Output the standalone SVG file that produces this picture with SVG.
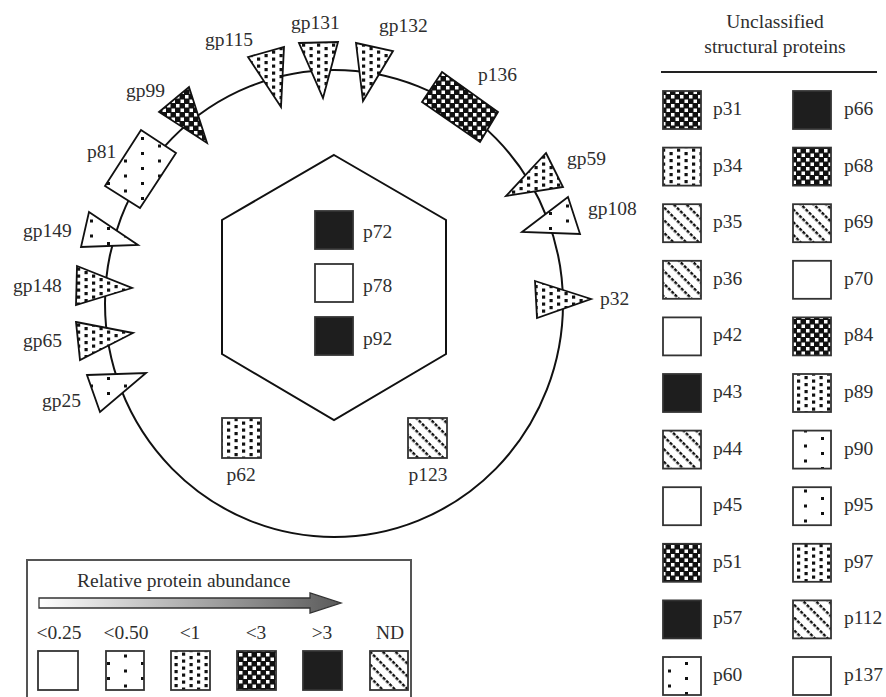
<svg xmlns="http://www.w3.org/2000/svg" width="886" height="697" viewBox="0 0 886 697">
<defs>
<style>
.t{font-family:"Liberation Serif","Times New Roman",serif;font-size:19.5px;fill:#2e2e2e}
.m{text-anchor:middle}
.sh{stroke:#111;stroke-width:1.8;stroke-linejoin:miter}
.sq{stroke:#333;stroke-width:1.8}
.w{fill:#fff}
.k{fill:#1e1e1e}
.d{fill:url(#pDots)}
.s{fill:url(#pSparse)}
.c{fill:url(#pCheck)}
.g{fill:url(#pDiag)}
</style>
<pattern id="pSparse" width="34" height="15" patternUnits="userSpaceOnUse">
<rect width="34" height="15" fill="#fff"/>
<rect x="5" y="2" width="3" height="3" fill="#111"/>
<rect x="22" y="9.5" width="3" height="3" fill="#111"/>
</pattern>
<pattern id="pDots" width="15" height="7" patternUnits="userSpaceOnUse">
<rect width="15" height="7" fill="#fff"/>
<rect x="2" y="1.5" width="3.2" height="3.2" fill="#111"/>
<rect x="9.5" y="5" width="3.2" height="3.2" fill="#111"/>
<rect x="9.5" y="-2" width="3.2" height="3.2" fill="#111"/>
</pattern>
<pattern id="pCheck" width="9" height="9" patternUnits="userSpaceOnUse">
<rect width="9" height="9" fill="#111"/>
<rect x="0.5" y="0.5" width="3.5" height="3.5" fill="#fff"/>
<rect x="5" y="5" width="3.5" height="3.5" fill="#fff"/>
</pattern>
<pattern id="pDiag" width="4.6" height="9" patternUnits="userSpaceOnUse" patternTransform="rotate(45)">
<rect width="4.6" height="9" fill="#fff"/>
<rect x="0" y="0" width="3.2" height="2.4" fill="#111"/>
</pattern>
<linearGradient id="gArrow" x1="0" y1="0" x2="1" y2="0">
<stop offset="0" stop-color="#ffffff"/>
<stop offset="1" stop-color="#5a5a5a"/>
</linearGradient>
</defs>
<rect width="886" height="697" fill="#fff"/>

<g id="connectors">
<ellipse cx="334" cy="303.5" rx="229" ry="233.5" fill="none" stroke="#111" stroke-width="2"/>
</g>

<g id="capsid">
<polygon points="334,155 446,220 446,354 334,420 222,354 222,220" fill="none" stroke="#111" stroke-width="2"/>
</g>

<g id="p72"><rect class="sq k" x="315" y="211" width="38" height="38"/><text class="t" x="363" y="238">p72</text></g>
<g id="p78"><rect class="sq w" x="315" y="264" width="38" height="38"/><text class="t" x="363" y="292">p78</text></g>
<g id="p92"><rect class="sq k" x="315" y="317" width="38" height="38"/><text class="t" x="363" y="345">p92</text></g>
<g id="p62"><rect class="sq d" x="222" y="418" width="39" height="40"/><text class="t m" x="241" y="481">p62</text></g>
<g id="p123"><rect class="sq g" x="408" y="418" width="39" height="40"/><text class="t m" x="428" y="481">p123</text></g>

<g id="gp99"><polygon class="sh c" points="159,112 189,87 207,143"/><text class="t" x="126" y="97">gp99</text></g>
<g id="gp115"><polygon class="sh d" points="248,57 284,47 281,107"/><text class="t" x="205" y="46">gp115</text></g>
<g id="gp131"><polygon class="sh d" points="299,43 338,42 323,98"/><text class="t" x="291" y="29">gp131</text></g>
<g id="gp132"><polygon class="sh d" points="356,43 393,51 363,101"/><text class="t" x="379" y="32">gp132</text></g>
<g id="p136"><polygon class="sh c" points="442,72 498,112 480,142 422,102"/><text class="t" x="478" y="81">p136</text></g>
<g id="gp59"><polygon class="sh d" points="546,153 563,187 506,196"/><text class="t" x="567" y="165">gp59</text></g>
<g id="gp108"><polygon class="sh s" points="568,197 580,234 522,232"/><text class="t" x="588" y="215">gp108</text></g>
<g id="p32"><polygon class="sh d" points="535,281 591,299 537,318"/><text class="t" x="600" y="305">p32</text></g>
<g id="p81"><polygon class="sh s" points="141,130 176,153 140,208 105,186"/><text class="t" x="87" y="158">p81</text></g>
<g id="gp149"><polygon class="sh s" points="89,212 138,245 81,247"/><text class="t" x="23" y="237">gp149</text></g>
<g id="gp148"><polygon class="sh d" points="77,266 132,288 76,305"/><text class="t" x="13" y="292">gp148</text></g>
<g id="gp65"><polygon class="sh d" points="76,322 133,333 80,360"/><text class="t" x="23" y="347">gp65</text></g>
<g id="gp25"><polygon class="sh s" points="87,375 146,373 100,412"/><text class="t" x="42" y="407">gp25</text></g>

<g id="abundance-legend">
<rect x="27" y="560" width="384" height="150" fill="none" stroke="#555" stroke-width="2"/>
<text class="t" x="77" y="587">Relative protein abundance</text>
<polygon points="39,598 310,598 310,593 341,603 310,613 310,608 39,608" fill="url(#gArrow)" stroke="#333" stroke-width="1.3"/>
<text class="t m" x="59" y="639">&lt;0.25</text>
<text class="t m" x="126" y="639">&lt;0.50</text>
<text class="t m" x="190" y="639">&lt;1</text>
<text class="t m" x="256" y="639">&lt;3</text>
<text class="t m" x="322" y="639">&gt;3</text>
<text class="t m" x="390" y="639">ND</text>
<rect class="sq w" x="38" y="651" width="40" height="39"/>
<rect class="sq s" x="106" y="651" width="38" height="39"/>
<rect class="sq d" x="171" y="651" width="39" height="39"/>
<rect class="sq c" x="237" y="651" width="39" height="39"/>
<rect class="sq k" x="303" y="651" width="39" height="39"/>
<rect class="sq g" x="370" y="651" width="38" height="39"/>
</g>

<g id="unclassified-legend">
<text class="t m" x="775" y="28">Unclassified</text>
<text class="t m" x="775" y="53">structural proteins</text>
<line x1="661" y1="72" x2="877" y2="72" stroke="#222" stroke-width="2.2"/>
<g id="p31"><rect class="sq c" x="663" y="91" width="38" height="38"/><text class="t" x="713" y="115">p31</text></g>
<g id="p34"><rect class="sq d" x="663" y="147.6" width="38" height="38"/><text class="t" x="713" y="171.6">p34</text></g>
<g id="p35"><rect class="sq g" x="663" y="204.2" width="38" height="38"/><text class="t" x="713" y="228.2">p35</text></g>
<g id="p36"><rect class="sq g" x="663" y="260.8" width="38" height="38"/><text class="t" x="713" y="284.8">p36</text></g>
<g id="p42"><rect class="sq w" x="663" y="317.4" width="38" height="38"/><text class="t" x="713" y="341.4">p42</text></g>
<g id="p43"><rect class="sq k" x="663" y="374" width="38" height="38"/><text class="t" x="713" y="398">p43</text></g>
<g id="p44"><rect class="sq g" x="663" y="430.6" width="38" height="38"/><text class="t" x="713" y="454.6">p44</text></g>
<g id="p45"><rect class="sq w" x="663" y="487.2" width="38" height="38"/><text class="t" x="713" y="511.2">p45</text></g>
<g id="p51"><rect class="sq c" x="663" y="543.8" width="38" height="38"/><text class="t" x="713" y="567.8">p51</text></g>
<g id="p57"><rect class="sq k" x="663" y="600.4" width="38" height="38"/><text class="t" x="713" y="624.4">p57</text></g>
<g id="p60"><rect class="sq s" x="663" y="657" width="38" height="38"/><text class="t" x="713" y="681">p60</text></g>
<g id="p66"><rect class="sq k" x="793" y="91" width="38" height="38"/><text class="t" x="844" y="115">p66</text></g>
<g id="p68"><rect class="sq c" x="793" y="147.6" width="38" height="38"/><text class="t" x="844" y="171.6">p68</text></g>
<g id="p69"><rect class="sq g" x="793" y="204.2" width="38" height="38"/><text class="t" x="844" y="228.2">p69</text></g>
<g id="p70"><rect class="sq w" x="793" y="260.8" width="38" height="38"/><text class="t" x="844" y="284.8">p70</text></g>
<g id="p84"><rect class="sq c" x="793" y="317.4" width="38" height="38"/><text class="t" x="844" y="341.4">p84</text></g>
<g id="p89"><rect class="sq d" x="793" y="374" width="38" height="38"/><text class="t" x="844" y="398">p89</text></g>
<g id="p90"><rect class="sq s" x="793" y="430.6" width="38" height="38"/><text class="t" x="844" y="454.6">p90</text></g>
<g id="p95"><rect class="sq s" x="793" y="487.2" width="38" height="38"/><text class="t" x="844" y="511.2">p95</text></g>
<g id="p97"><rect class="sq d" x="793" y="543.8" width="38" height="38"/><text class="t" x="844" y="567.8">p97</text></g>
<g id="p112"><rect class="sq g" x="793" y="600.4" width="38" height="38"/><text class="t" x="844" y="624.4">p112</text></g>
<g id="p137"><rect class="sq w" x="793" y="657" width="38" height="38"/><text class="t" x="844" y="681">p137</text></g>
</g>
</svg>
